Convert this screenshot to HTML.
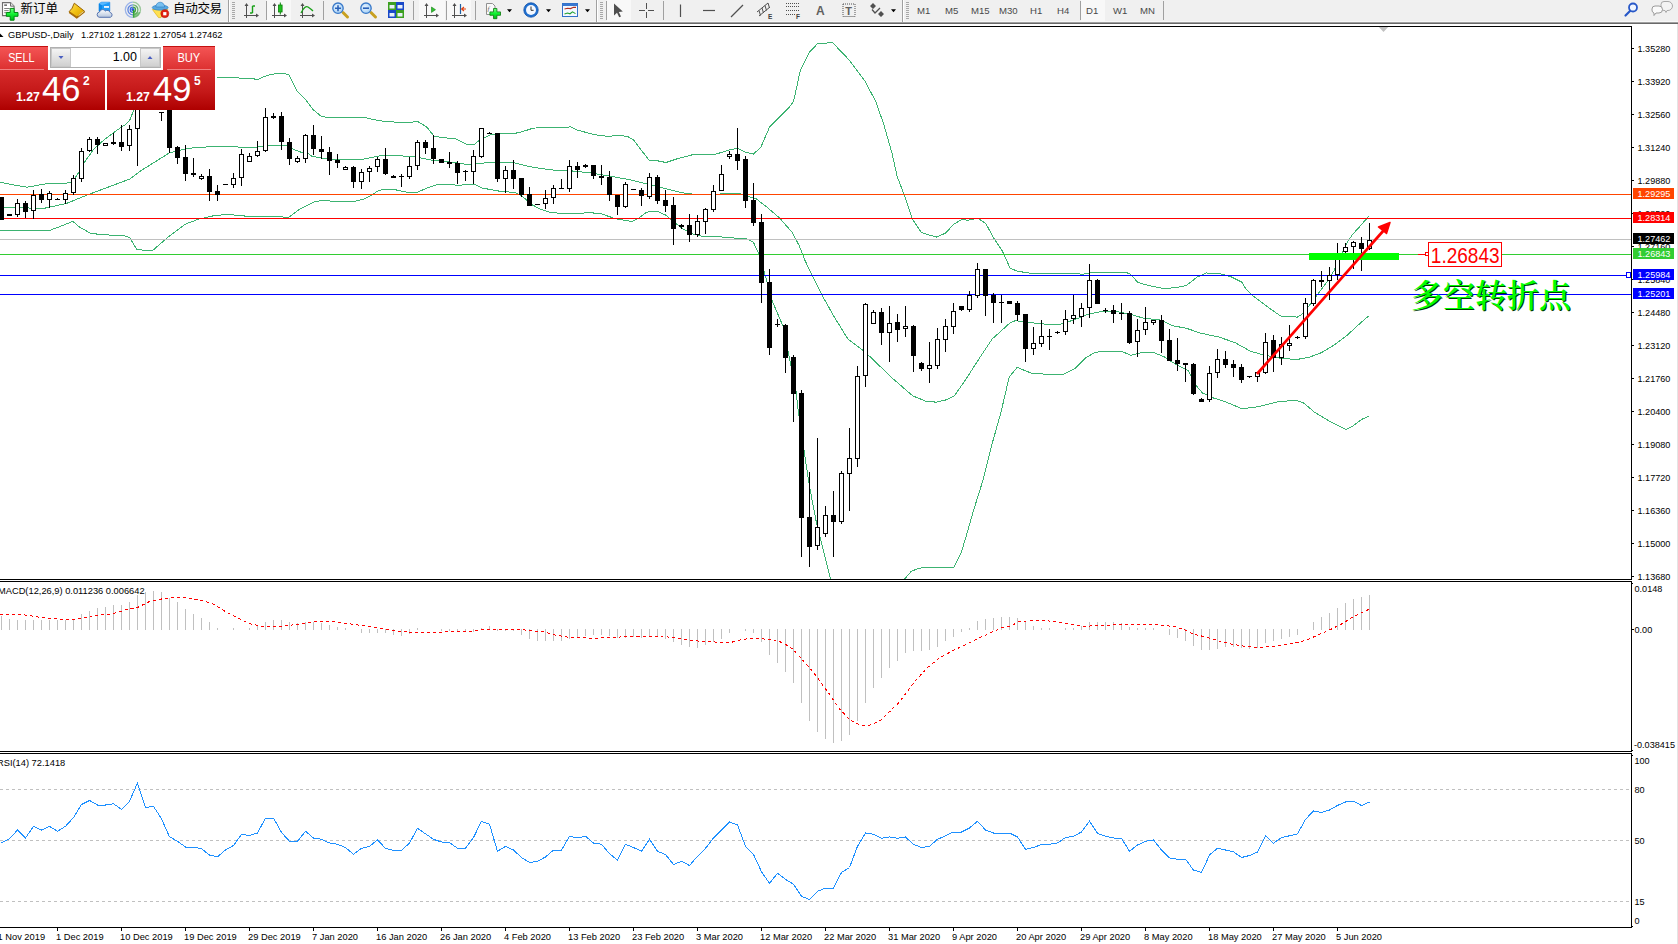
<!DOCTYPE html>
<html><head><meta charset="utf-8"><title>GBPUSD Daily</title>
<style>
html,body{margin:0;padding:0;background:#fff;}
body{width:1678px;height:944px;overflow:hidden;position:relative;font-family:"Liberation Sans", sans-serif;}
#tb{position:absolute;left:0;top:0;width:1678px;height:22px;background:#F0F0F0;}
#tbl0{position:absolute;left:0;top:21px;width:1678px;height:1px;background:#F8F8F8;}
#tbl1{position:absolute;left:0;top:22px;width:1678px;height:1px;background:#A0A0A0;}
#tbl2{position:absolute;left:0;top:23px;width:1678px;height:1px;background:#696969;}
#chart{position:absolute;left:0;top:0;}
#chart text{font-family:"Liberation Sans", sans-serif;}
.tf{position:absolute;top:5px;font-size:9.6px;color:#4a4a4a;letter-spacing:0;}
.sep{position:absolute;top:1px;width:1px;height:19px;background:#A0A0A0;}
.grip{position:absolute;top:2px;width:3px;height:18px;background:repeating-linear-gradient(#A8A8A8 0 1px,#F0F0F0 1px 2px);}
.prs{position:absolute;top:0;height:22px;background:#F8F8F8;}
.cj{position:absolute;top:-0.5px;font-size:12.5px;line-height:18px;color:#000;font-family:"Liberation Sans", "Noto Sans CJK SC", sans-serif;white-space:nowrap;}
.ic{position:absolute;top:2px;}
#pn{position:absolute;left:0;top:46px;width:215px;height:64px;background:#fff;}
#pn div{position:absolute;box-sizing:border-box;}
.sb{top:0;height:24px;background:linear-gradient(#F45454,#DC3030);border-top:1px solid #C41010;color:#fff;font-size:12.5px;line-height:22px;text-align:center;}
.sb span{display:inline-block;transform-origin:50% 50%;}
.bp{top:24px;height:40px;background:linear-gradient(#D62B2B 0%,#C41818 55%,#AE0000 100%);color:#fff;}
.bp span{position:absolute;white-space:nowrap;color:#fff;}
.sm{font-size:12.3px;font-weight:bold;bottom:6px;}
.bg{font-size:34.5px;bottom:1px;line-height:40px;}
.su{font-size:12px;font-weight:bold;top:4px;}
.ul{height:1px;background:#F08080;top:23px;}
#vol{left:50px;top:1px;width:111px;height:21px;border:1px solid #B0B0B0;background:#fff;}
.spb{top:0;width:20px;height:19px;background:linear-gradient(#F4F4F4,#D0D0D0);border:1px solid #C8C8C8;}

</style></head><body>
<div id="tb"></div><div id="tbl0"></div><div id="tbl1"></div><div id="tbl2"></div>
<!-- pressed backgrounds -->
<div class="prs" style="left:267px;width:24px"></div>
<div class="prs" style="left:419px;width:26px"></div>
<div class="prs" style="left:447px;width:24px"></div>
<div class="prs" style="left:607px;width:24px"></div>
<div class="prs" style="left:1081px;width:24px"></div>
<!-- separators -->
<div class="sep" style="left:228px;top:0;height:22px"></div><div class="sep" style="left:229px;top:0;height:22px;background:#fff"></div><div class="grip" style="left:232px"></div>
<div class="sep" style="left:266px"></div>
<div class="sep" style="left:323px"></div>
<div class="sep" style="left:413px"></div>
<div class="sep" style="left:446px"></div>
<div class="sep" style="left:475px"></div>
<div class="sep" style="left:596px;top:0;height:22px"></div><div class="sep" style="left:597px;top:0;height:22px;background:#fff"></div><div class="grip" style="left:600px"></div>
<div class="sep" style="left:606px"></div>
<div class="sep" style="left:663px"></div>
<div class="sep" style="left:902px;top:0;height:22px"></div><div class="sep" style="left:903px;top:0;height:22px;background:#fff"></div><div class="grip" style="left:906px"></div>
<div class="sep" style="left:1080px"></div>
<div class="sep" style="left:1163px"></div>
<!-- texts -->
<div class="cj" style="left:20.5px">新订单</div>
<div class="cj" style="left:173px;letter-spacing:-0.3px">自动交易</div>
<div class="tf" style="left:917px">M1</div>
<div class="tf" style="left:945px">M5</div>
<div class="tf" style="left:971px">M15</div>
<div class="tf" style="left:999px">M30</div>
<div class="tf" style="left:1030px">H1</div>
<div class="tf" style="left:1057px">H4</div>
<div class="tf" style="left:1086px">D1</div>
<div class="tf" style="left:1113px">W1</div>
<div class="tf" style="left:1140px">MN</div>
<!-- icons -->
<svg class="ic" style="left:0;top:0" width="1678" height="22" viewBox="0 0 1678 22">
<defs>
<linearGradient id="gg" x1="0" y1="0" x2="0" y2="1"><stop offset="0" stop-color="#70FF80"/><stop offset="0.5" stop-color="#10F030"/><stop offset="1" stop-color="#00B818"/></linearGradient>
<linearGradient id="gold" x1="0" y1="0" x2="1" y2="1"><stop offset="0" stop-color="#FFE060"/><stop offset="0.5" stop-color="#F0C010"/><stop offset="1" stop-color="#D89800"/></linearGradient>
<linearGradient id="blu" x1="0" y1="0" x2="0" y2="1"><stop offset="0" stop-color="#58B8FF"/><stop offset="1" stop-color="#1878E0"/></linearGradient>
<radialGradient id="lens" cx="0.4" cy="0.4" r="0.7"><stop offset="0" stop-color="#E8F4FF"/><stop offset="1" stop-color="#9CCBF4"/></radialGradient>
<linearGradient id="cl" x1="0" y1="0" x2="0" y2="1"><stop offset="0" stop-color="#FFFFFF"/><stop offset="1" stop-color="#B4C4DC"/></linearGradient>
</defs>
<!-- new order -->
<path d="M2.5,2.6 h8 l3.6,3.6 v9.4 h-11.6 z" fill="#fff" stroke="#6E6E6E" stroke-width="1.1"/>
<path d="M10.5,2.6 v3.6 h3.6" fill="#E0E0E0" stroke="#6E6E6E" stroke-width="1"/>
<rect x="4.2" y="4.4" width="2.8" height="1.5" fill="#666"/><rect x="4.2" y="8" width="5.5" height="1" fill="#808080"/><rect x="4.2" y="10.1" width="4.5" height="1" fill="#808080"/><rect x="4.2" y="12.2" width="2" height="1" fill="#808080"/>
<path d="M10.2,8.4 h3.9 v4.1 h3.9 v3.8 h-3.9 v3.9 h-3.9 v-3.9 h-3.9 v-3.8 h3.9 z" fill="url(#gg)" stroke="#008A10" stroke-width="1"/>
<!-- gold book -->
<path d="M69,11.8 Q72.5,9 74.3,3.2 L84.6,11.3 L76.8,17.8 Z" fill="url(#gold)" stroke="#9A6400" stroke-width="1"/>
<path d="M69.3,12.3 L76.8,17.6 L84.4,11.6" fill="none" stroke="#A86C08" stroke-width="1.8"/>
<path d="M78.5,15.6 L83.6,11.5" fill="none" stroke="#E8DCA0" stroke-width="1"/>
<!-- blue doc + cloud -->
<path d="M99,3.6 l2.6,-1.4 h8.2 v9 h-10.8 z" fill="#1E9CF8" stroke="#1880E0" stroke-width="0.6"/>
<path d="M99,3.6 l3,1.6 v6 h-3z" fill="#0A88E8"/>
<path d="M102,5.2 l-3,-1.600 l2.600,-1.400 h8.200 z" fill="#58B8FF"/>
<rect x="104" y="6" width="5" height="1.900" fill="#E8F4FF"/>
<path d="M99.200,17.300 a2.700,2.700 0 0 1 0.300,-5.300 a3.300,3.300 0 0 1 5.900,-1 a3,3 0 0 1 4.700,1.500 a2.500,2.500 0 0 1 0.300,4.800 z" fill="url(#cl)" stroke="#4868A8" stroke-width="0.9"/>
<!-- signal -->
<g fill="none" stroke-width="1.3">
<path d="M132.9,2.2 a7.6,7.6 0 0 0 0,15.2" stroke="#9CB4E8"/><path d="M132.9,2.2 a7.6,7.6 0 0 1 0,15.2" stroke="#9CC89C"/>
<path d="M132.9,4.8 a5,5 0 0 0 0,10" stroke="#5C84E0"/><path d="M132.9,4.8 a5,5 0 0 1 0,10" stroke="#68B068"/>
<path d="M132.9,7.2 a2.6,2.6 0 0 0 0,5.2" stroke="#3868E0"/><path d="M132.9,7.2 a2.6,2.6 0 0 1 0,5.2" stroke="#40A040"/>
</g>
<circle cx="132.9" cy="9.6" r="1.5" fill="#2858D8"/><rect x="132.9" y="10" width="1.5" height="7.5" fill="#28A028"/>
<path d="M133.5,17.4 a7.6,7.6 0 0 0 6.8,-5.5 l-6.8,1z" fill="#58B058" opacity="0.7"/>
<!-- autotrading -->
<path d="M152.4,9.5 L167.8,9.5 L161,17.6 L158.5,17.6 Z" fill="#FFE050" stroke="#D8A800" stroke-width="0.6"/>
<ellipse cx="160.2" cy="7.6" rx="8" ry="2.6" fill="#58A8E0" stroke="#2878C0" stroke-width="0.6"/>
<path d="M155.8,7 a4.4,4.8 0 0 1 8.8,0 z" fill="#78C0F0" stroke="#2878C0" stroke-width="0.6"/>
<circle cx="164.8" cy="13.7" r="4" fill="#E02010" stroke="#B01000" stroke-width="0.5"/><rect x="163.2" y="12.1" width="3.2" height="3.2" fill="#fff"/>
<!-- chart type icons: axes helper -->
<g stroke="#505050" stroke-width="1.2" fill="none" shape-rendering="crispEdges">
<path d="M246.5,4 v14 M244,15.5 h14"/><path d="M274.5,4 v14 M272,15.5 h14"/><path d="M302.5,4 v14 M300,15.5 h14"/>
<path d="M426.5,4 v14 M424,15.5 h14"/><path d="M454.5,4 v14 M452,15.5 h14"/>
</g>
<g fill="#505050"><path d="M244.5,6 l2,-3 l2,3z M272.5,6 l2,-3 l2,3z M300.5,6 l2,-3 l2,3z M424.5,6 l2,-3 l2,3z M452.5,6 l2,-3 l2,3z"/>
<path d="M256,13.5 l3,2 l-3,2z M284,13.5 l3,2 l-3,2z M312,13.5 l3,2 l-3,2z M436,13.5 l3,2 l-3,2z M464,13.5 l3,2 l-3,2z"/></g>
<path d="M252.5,6 v7 M250,13 h2.5 M252.5,6 h2.5" stroke="#18A018" stroke-width="1.4" fill="none"/>
<rect x="278.5" y="5" width="3.6" height="7" fill="#20C020" stroke="#0A800A" stroke-width="0.8"/><path d="M280.3,2.5 v2.5 M280.3,12 v2.5" stroke="#0A800A" stroke-width="1"/>
<path d="M301,13 q4,-8 7,-6 t5,4" stroke="#18A018" stroke-width="1.3" fill="none"/>
<!-- zoom in / out -->
<path d="M343,12.5 l4.5,4.5" stroke="#C8A020" stroke-width="3" stroke-linecap="round"/>
<circle cx="338" cy="8.2" r="5.2" fill="url(#lens)" stroke="#3878C8" stroke-width="1.3"/>
<path d="M335,8.2 h6 M338,5.2 v6" stroke="#2860B8" stroke-width="1.6"/>
<path d="M371,12.5 l4.5,4.5" stroke="#C8A020" stroke-width="3" stroke-linecap="round"/>
<circle cx="366" cy="8.2" r="5.2" fill="url(#lens)" stroke="#3878C8" stroke-width="1.3"/>
<path d="M363,8.2 h6" stroke="#2860B8" stroke-width="1.6"/>
<!-- grid tiles -->
<rect x="388" y="2" width="8" height="8" fill="#3CA020"/><rect x="396" y="2" width="8" height="8" fill="#1848C8"/>
<rect x="388" y="10" width="8" height="8" fill="#1848C8"/><rect x="396" y="10" width="8" height="8" fill="#3CA020"/>
<g fill="#E8F0F8"><rect x="389.5" y="5" width="5" height="3.5"/><rect x="397.5" y="5" width="5" height="3.5"/><rect x="389.5" y="13" width="5" height="3.5"/><rect x="397.5" y="13" width="5" height="3.5"/></g>
<!-- auto scroll / chart shift -->
<path d="M431.5,7 l4,2.7 l-4,2.7z" fill="#30C030" stroke="#108010" stroke-width="0.6"/>
<path d="M460.5,4 v10" stroke="#2060A0" stroke-width="1.2"/><path d="M466,9 h-4 M464,7 l-2.4,2 l2.4,2" stroke="#E04010" stroke-width="1.1" fill="none"/>
<!-- indicators -->
<path d="M486.5,3.5 h6 l2.5,2.5 v8.5 h-8.5 z" fill="#FAFAFA" stroke="#909090"/><text x="487.6" y="11" font-size="7" font-style="italic" fill="#606060" font-family="Liberation Serif, serif">f</text>
<path d="M493.5,8.5 h3.4 v3.4 h3.6 v3.4 h-3.6 v3.4 h-3.4 v-3.4 h-3.6 v-3.4 h3.6 z" fill="url(#gg)" stroke="#0A7A0A" stroke-width="0.8"/>
<path d="M507,9.2 h5 l-2.5,3z" fill="#000"/>
<!-- clock -->
<circle cx="531" cy="10" r="7.2" fill="#2070D0" stroke="#1050A8" stroke-width="0.8"/><circle cx="531" cy="10" r="5" fill="#F4F8FF"/>
<path d="M531,6.5 v3.8 h2.6" stroke="#303030" stroke-width="1" fill="none"/>
<path d="M546,9.2 h5 l-2.5,3z" fill="#000"/>
<!-- template -->
<rect x="562.5" y="3.5" width="15" height="13" fill="#F4F8FF" stroke="#3070C8"/><rect x="562.5" y="3.5" width="15" height="2.5" fill="#3878D0"/>
<path d="M564.5,9 l3,-0.8 l3,0.4 l3,-1.4 l2.5,0.2" stroke="#B03020" stroke-width="1.1" fill="none"/>
<path d="M564.5,14 l3,-1 l2.5,0.8 l2.5,-2 l3,1.8" stroke="#20A030" stroke-width="1.1" fill="none"/>
<path d="M585,9.2 h5 l-2.5,3z" fill="#000"/>
<!-- cursor -->
<path d="M614,3.5 v12 l3,-2.8 l2.2,4.6 l1.8,-0.9 l-2.2,-4.5 l4,-0.3 z" fill="#505050"/>
<!-- crosshair -->
<path d="M646.5,3 v6 M646.5,12 v6 M639,10.5 h6 M648,10.5 h6" stroke="#505050" stroke-width="1.1" shape-rendering="crispEdges"/>
<!-- line tools -->
<path d="M680.5,4.5 v12.5" stroke="#505050" stroke-width="1.2"/>
<path d="M703,10.5 h12" stroke="#505050" stroke-width="1.2"/>
<path d="M731,17 l12,-12" stroke="#505050" stroke-width="1.2"/>
<g stroke="#505050" stroke-width="1" fill="none"><path d="M757,12 l11,-9 M759,16 l11,-9 M759,10.5 l1.5,5 M762,8 l1.5,5 M765,5.500 l1.5,5 M768,3 l1.5,5"/></g>
<text x="768" y="18.8" font-size="6.5" font-weight="bold" fill="#404040" font-family="Liberation Sans, sans-serif">E</text>
<g stroke="#505050" stroke-width="1" stroke-dasharray="1 1" fill="none"><path d="M786,3.500 h13 M786,6.500 h13 M786,10.500 h13 M786,14.500 h9"/></g>
<text x="796" y="18.8" font-size="6.5" font-weight="bold" fill="#404040" font-family="Liberation Sans, sans-serif">F</text>
<text x="816" y="15" font-size="12" font-weight="bold" fill="#606060" font-family="Liberation Sans, sans-serif">A</text>
<rect x="843" y="4" width="12" height="12.5" fill="none" stroke="#505050" stroke-width="1" stroke-dasharray="1 1"/>
<text x="845.2" y="14.5" font-size="11" font-weight="bold" fill="#606060" font-family="Liberation Sans, sans-serif">T</text>
<path d="M873,3 l3,3 l-3,3 l-3,-3z M881,11 l3,3 l-3,3 l-3,-3z" fill="#505050"/><path d="M872,9.500 l3,3.500 l5,-5" stroke="#505050" stroke-width="1.3" fill="none"/>
<path d="M891,9.2 h5 l-2.500,3z" fill="#000"/>
<!-- search + chat -->
<circle cx="1633" cy="7.500" r="4" fill="#F0F6FF" stroke="#2858C8" stroke-width="1.8"/><path d="M1630,11 l-4.500,4.500" stroke="#2858C8" stroke-width="2.2" stroke-linecap="round"/>
<path d="M1655,5.500 a3,3 0 0 1 3,-3 h4 a3,3 0 0 1 0,9 h-1 l-1,2 l-1,-2 h-1 a3,3 0 0 1 -3,-3z" fill="#F4F4F4" stroke="#A0A0A0" stroke-width="0.9" transform="translate(6,-1)"/>
<path d="M1652,9 a3,3 0 0 1 3,-3 h4 a3,3 0 0 1 0,7 h-3 l-2,2.500 v-2.500 a3,3 0 0 1 -2,-3z" fill="#FAFAFA" stroke="#909090" stroke-width="0.9"/>
</svg>

<svg id="chart" width="1678" height="944" viewBox="0 0 1678 944">
<g shape-rendering="crispEdges">
<polyline points="0.0,182.2 14.4,185.1 27.0,187.2 45.0,184.0 66.6,183.1 72.0,181.8 77.4,174.6 84.6,162.0 93.6,149.4 104.4,139.5 115.2,131.4 126.0,124.2 129.6,120.6 133.2,111.6 135.0,108.0" fill="none" stroke="#3CB371" stroke-width="1"/>
<polyline points="217.0,77.3 236.9,77.3 239.4,78.2 252.1,78.2 255.9,79.5 258.5,79.2 263.6,76.7 271.2,74.4 278.8,73.3 283.9,73.3 289.0,74.8 292.8,82.4 296.6,90.4 305.5,99.6 313.2,109.8 320.8,115.9 327.1,117.4 365.3,117.4 371.6,119.3 385.2,121.5 406.8,122.8 417.6,121.5 426.6,126.9 433.8,135.9 442.8,137.7 455.5,138.6 466.3,144.0 473.5,144.9 480.7,139.5 491.5,134.1 513.0,133.8 522.0,131.8 532.9,128.2 545.0,127.3 570.6,127.0 576.0,129.7 594.0,134.6 608.4,136.4 619.2,135.1 628.2,136.9 633.6,140.0 640.8,149.5 648.9,160.0 657.0,160.7 666.0,162.5 676.8,158.9 693.0,154.6 716.4,154.0 729.0,150.0 737.2,148.3 745.3,152.2 753.4,154.0 760.6,147.7 769.6,127.0 779.5,117.1 788.5,108.1 793.9,100.9" fill="none" stroke="#3CB371" stroke-width="1"/>
<polyline points="793.6,101.3 800.3,70.4 809.8,51.6 817.8,43.5 832.6,42.7 848.8,59.6 864.9,81.1 875.7,101.3 883.7,124.2 891.8,152.4 897.2,176.6 903.9,194.1 912.0,218.3 921.4,232.6 936.2,237.1 945.6,233.1 953.7,224.2 961.7,219.7 968.4,220.2 977.9,218.3 985.9,223.7 994.0,238.5 1002.1,250.6 1010.1,268.1 1017.2,271.2 1031.6,273.4 1074.8,273.4 1082.0,274.3 1094.6,272.1 1125.2,272.1 1130.6,274.3 1137.8,282.4 1148.6,285.5 1163.0,288.4 1175.6,287.8 1186.4,285.5 1197.2,277.0 1206.3,273.0 1218.9,273.4 1231.5,277.0 1242.3,282.4 1245.1,287.7 1251.4,294.7 1259.1,300.4 1269.2,308.1 1280.7,316.0 1290.9,316.3 1297.2,317.2 1303.6,313.2 1311.2,303.0 1318.8,292.8 1326.5,282.6 1334.1,270.6 1341.7,253.4 1348.1,240.7 1353.2,233.7 1360.8,225.4 1369.0,215.9" fill="none" stroke="#3CB371" stroke-width="1"/>
<polyline points="0.0,207.0 43.2,208.5 66.6,203.4 86.4,195.3 129.6,179.1 140.4,171.0 169.2,153.0 187.3,148.5 198.1,147.3 223.3,146.4 252.1,147.6 270.1,145.8 276.3,145.1 286.5,145.6 294.1,149.8 301.7,152.4 308.1,153.6 311.9,156.2 327.1,159.1 364.0,159.1 371.6,157.4 383.1,155.3 392.4,155.2 417.6,157.2 432.0,160.2 450.0,162.0 466.3,164.4 473.5,164.2 487.9,162.6 500.5,162.4 514.9,162.9 529.3,166.5 540.0,168.4 554.4,170.2 570.6,170.8 590.4,172.9 612.0,176.5 630.0,179.8 648.0,184.1 664.2,188.2 680.4,192.4 687.6,193.6 702.0,195.0 711.0,194.5 733.6,193.3 740.0,193.5 747.0,196.3 756.0,198.7 766.9,207.1 779.5,217.9 792.1,232.3 799.3,245.8 804.8,260.0 812.0,275.3 821.0,293.3 833.6,315.8 848.0,339.2 862.4,350.0 869.6,356.3 893.0,378.8 912.8,395.9 925.4,401.0 936.2,402.2 945.3,400.1 954.3,395.9 965.0,380.6 979.5,358.1 992.0,339.2 1010.0,322.9 1015.4,320.6 1028.0,322.4 1046.0,324.2 1060.4,324.2 1073.0,320.2 1089.2,313.9 1103.6,311.2 1118.0,311.8 1128.8,313.9 1143.2,318.1 1161.2,320.2 1172.0,325.6 1186.4,328.3 1200.9,333.2 1218.9,337.0 1235.1,342.7 1250.4,351.2 1262.2,354.6 1277.1,357.8 1296.4,359.6 1309.7,357.1 1321.6,352.6 1334.9,344.5 1346.8,335.6 1357.2,326.0 1364.6,319.3 1368.7,316.0" fill="none" stroke="#3CB371" stroke-width="1"/>
<polyline points="0.0,230.4 50.4,230.1 59.4,226.8 72.9,221.4 79.2,226.8 90.0,233.1 100.8,234.6 124.2,235.8 129.6,237.6 136.8,249.3 144.0,250.2 153.0,250.2 167.4,237.6 185.5,224.1 198.1,219.3 212.5,216.0 223.3,214.8 239.5,215.1 246.7,216.4 270.1,216.6 280.8,216.6 288.0,217.8 298.8,209.7 315.0,201.6 324.0,200.2 334.8,201.6 352.8,201.6 363.6,199.3 372.6,194.4 378.0,190.8 385.2,189.0 396.0,189.9 408.6,192.6 417.6,192.3 426.6,188.1 437.4,184.5 450.0,184.2 457.2,185.4 473.5,184.0 482.5,188.1 502.3,191.7 514.9,192.3 522.0,196.2 532.9,205.2 540.0,208.9 549.0,212.0 559.8,213.4 576.0,213.8 588.6,212.5 601.2,213.8 615.6,218.8 631.8,221.5 639.0,217.9 646.2,212.5 651.6,211.1 658.8,212.0 666.0,215.2 673.2,221.5 684.0,229.6 693.0,234.1 702.0,236.3 720.0,236.8 738.0,238.3 747.0,239.0 753.4,242.2 758.8,253.9 763.4,269.0 772.4,301.4 783.2,326.6 788.6,353.6 795.8,389.6 798.5,413.0 803.9,449.2 808.4,479.8 812.0,499.6 816.5,523.0 821.0,541.0 826.4,562.6 830.6,579.0" fill="none" stroke="#3CB371" stroke-width="1"/>
<polyline points="904.7,579.0 911.0,571.6 918.2,568.4 927.2,567.1 941.7,567.5 953.4,568.0 961.5,551.8 966.9,533.8 974.1,508.6 983.1,479.8 992.1,443.8 1000.2,415.0 1002.9,404.0 1009.2,377.0 1017.2,367.4 1031.6,373.3 1046.0,374.2 1064.0,374.2 1074.8,368.8 1085.6,358.0 1094.6,352.6 1103.6,351.2 1121.6,351.2 1130.6,355.3 1139.6,353.0 1154.0,352.6 1164.8,357.1 1175.6,364.3 1188.2,370.6 1197.2,386.8 1202.6,393.1 1213.5,398.0 1226.1,402.1 1242.3,408.8 1257.8,406.8 1278.6,401.6 1296.4,400.4 1303.8,403.1 1314.2,412.0 1329.0,420.9 1346.0,429.5 1352.7,426.1 1361.6,419.4 1368.7,416.4" fill="none" stroke="#3CB371" stroke-width="1"/>
</g>
<rect x="0" y="194" width="1631" height="1" fill="#FF4500"/>
<rect x="0" y="218" width="1631" height="1" fill="#FF0000"/>
<rect x="0" y="239" width="1631" height="1" fill="#C0C0C0"/>
<rect x="0" y="254" width="1631" height="1" fill="#32CD32"/>
<rect x="0" y="275" width="1631" height="1" fill="#0000FF"/>
<rect x="0" y="294" width="1631" height="1" fill="#0000FF"/>
<g shape-rendering="crispEdges">
<rect x="1" y="197" width="1" height="23" fill="#000"/>
<rect x="-1" y="197" width="5" height="23" fill="#000"/>
<rect x="9" y="214" width="1" height="2" fill="#000"/>
<rect x="7" y="214" width="5" height="2" fill="#000"/>
<rect x="17" y="199" width="1" height="18" fill="#000"/>
<rect x="15" y="203" width="5" height="12" fill="#000"/>
<rect x="16" y="204" width="3" height="10" fill="#fff"/>
<rect x="25" y="201" width="1" height="17" fill="#000"/>
<rect x="23" y="203" width="5" height="9" fill="#000"/>
<rect x="33" y="190" width="1" height="29" fill="#000"/>
<rect x="31" y="195" width="5" height="16" fill="#000"/>
<rect x="32" y="196" width="3" height="14" fill="#fff"/>
<rect x="41" y="189" width="1" height="14" fill="#000"/>
<rect x="39" y="194" width="5" height="6" fill="#000"/>
<rect x="49" y="191" width="1" height="17" fill="#000"/>
<rect x="47" y="193" width="5" height="7" fill="#000"/>
<rect x="48" y="194" width="3" height="5" fill="#fff"/>
<rect x="57" y="198" width="1" height="2" fill="#000"/>
<rect x="55" y="199" width="5" height="1" fill="#000"/>
<rect x="65" y="190" width="1" height="14" fill="#000"/>
<rect x="63" y="193" width="5" height="7" fill="#000"/>
<rect x="64" y="194" width="3" height="5" fill="#fff"/>
<rect x="73" y="175" width="1" height="20" fill="#000"/>
<rect x="71" y="178" width="5" height="15" fill="#000"/>
<rect x="72" y="179" width="3" height="13" fill="#fff"/>
<rect x="81" y="148" width="1" height="34" fill="#000"/>
<rect x="79" y="151" width="5" height="28" fill="#000"/>
<rect x="80" y="152" width="3" height="26" fill="#fff"/>
<rect x="89" y="137" width="1" height="15" fill="#000"/>
<rect x="87" y="139" width="5" height="12" fill="#000"/>
<rect x="88" y="140" width="3" height="10" fill="#fff"/>
<rect x="97" y="137" width="1" height="17" fill="#000"/>
<rect x="95" y="139" width="5" height="6" fill="#000"/>
<rect x="105" y="143" width="1" height="3" fill="#000"/>
<rect x="103" y="143" width="5" height="3" fill="#000"/>
<rect x="104" y="144" width="3" height="1" fill="#fff"/>
<rect x="113" y="133" width="1" height="12" fill="#000"/>
<rect x="111" y="142" width="5" height="2" fill="#000"/>
<rect x="121" y="125" width="1" height="26" fill="#000"/>
<rect x="119" y="142" width="5" height="5" fill="#000"/>
<rect x="129" y="125" width="1" height="26" fill="#000"/>
<rect x="127" y="129" width="5" height="17" fill="#000"/>
<rect x="128" y="130" width="3" height="15" fill="#fff"/>
<rect x="137" y="100" width="1" height="66" fill="#000"/>
<rect x="135" y="100" width="5" height="29" fill="#000"/>
<rect x="136" y="101" width="3" height="27" fill="#fff"/>
<rect x="145" y="100" width="1" height="5" fill="#000"/>
<rect x="143" y="100" width="5" height="5" fill="#000"/>
<rect x="153" y="100" width="1" height="5" fill="#000"/>
<rect x="151" y="100" width="5" height="5" fill="#000"/>
<rect x="161" y="112" width="1" height="9" fill="#000"/>
<rect x="159" y="112" width="5" height="1" fill="#000"/>
<rect x="169" y="100" width="1" height="53" fill="#000"/>
<rect x="167" y="100" width="5" height="48" fill="#000"/>
<rect x="177" y="146" width="1" height="18" fill="#000"/>
<rect x="175" y="147" width="5" height="11" fill="#000"/>
<rect x="185" y="145" width="1" height="36" fill="#000"/>
<rect x="183" y="157" width="5" height="17" fill="#000"/>
<rect x="193" y="158" width="1" height="19" fill="#000"/>
<rect x="191" y="173" width="5" height="2" fill="#000"/>
<rect x="201" y="174" width="1" height="6" fill="#000"/>
<rect x="199" y="176" width="5" height="3" fill="#000"/>
<rect x="200" y="177" width="3" height="1" fill="#fff"/>
<rect x="209" y="169" width="1" height="32" fill="#000"/>
<rect x="207" y="176" width="5" height="16" fill="#000"/>
<rect x="217" y="185" width="1" height="16" fill="#000"/>
<rect x="215" y="191" width="5" height="4" fill="#000"/>
<rect x="225" y="184" width="1" height="1" fill="#000"/>
<rect x="223" y="184" width="5" height="1" fill="#000"/>
<rect x="233" y="173" width="1" height="15" fill="#000"/>
<rect x="231" y="178" width="5" height="7" fill="#000"/>
<rect x="232" y="179" width="3" height="5" fill="#fff"/>
<rect x="241" y="149" width="1" height="37" fill="#000"/>
<rect x="239" y="154" width="5" height="24" fill="#000"/>
<rect x="240" y="155" width="3" height="22" fill="#fff"/>
<rect x="249" y="153" width="1" height="9" fill="#000"/>
<rect x="247" y="156" width="5" height="6" fill="#000"/>
<rect x="248" y="157" width="3" height="4" fill="#fff"/>
<rect x="257" y="141" width="1" height="16" fill="#000"/>
<rect x="255" y="151" width="5" height="5" fill="#000"/>
<rect x="256" y="152" width="3" height="3" fill="#fff"/>
<rect x="265" y="108" width="1" height="44" fill="#000"/>
<rect x="263" y="117" width="5" height="34" fill="#000"/>
<rect x="264" y="118" width="3" height="32" fill="#fff"/>
<rect x="273" y="113" width="1" height="6" fill="#000"/>
<rect x="271" y="116" width="5" height="2" fill="#000"/>
<rect x="281" y="112" width="1" height="38" fill="#000"/>
<rect x="279" y="116" width="5" height="26" fill="#000"/>
<rect x="289" y="138" width="1" height="27" fill="#000"/>
<rect x="287" y="142" width="5" height="17" fill="#000"/>
<rect x="297" y="156" width="1" height="7" fill="#000"/>
<rect x="295" y="158" width="5" height="4" fill="#000"/>
<rect x="296" y="159" width="3" height="2" fill="#fff"/>
<rect x="305" y="134" width="1" height="29" fill="#000"/>
<rect x="303" y="135" width="5" height="24" fill="#000"/>
<rect x="304" y="136" width="3" height="22" fill="#fff"/>
<rect x="313" y="125" width="1" height="30" fill="#000"/>
<rect x="311" y="135" width="5" height="14" fill="#000"/>
<rect x="321" y="136" width="1" height="23" fill="#000"/>
<rect x="319" y="149" width="5" height="3" fill="#000"/>
<rect x="329" y="147" width="1" height="28" fill="#000"/>
<rect x="327" y="152" width="5" height="9" fill="#000"/>
<rect x="337" y="154" width="1" height="14" fill="#000"/>
<rect x="335" y="160" width="5" height="3" fill="#000"/>
<rect x="345" y="166" width="1" height="3" fill="#000"/>
<rect x="343" y="167" width="5" height="3" fill="#000"/>
<rect x="344" y="168" width="3" height="1" fill="#fff"/>
<rect x="353" y="166" width="1" height="22" fill="#000"/>
<rect x="351" y="167" width="5" height="15" fill="#000"/>
<rect x="361" y="169" width="1" height="20" fill="#000"/>
<rect x="359" y="172" width="5" height="10" fill="#000"/>
<rect x="360" y="173" width="3" height="8" fill="#fff"/>
<rect x="369" y="166" width="1" height="16" fill="#000"/>
<rect x="367" y="168" width="5" height="4" fill="#000"/>
<rect x="368" y="169" width="3" height="2" fill="#fff"/>
<rect x="377" y="157" width="1" height="15" fill="#000"/>
<rect x="375" y="159" width="5" height="8" fill="#000"/>
<rect x="376" y="160" width="3" height="6" fill="#fff"/>
<rect x="385" y="148" width="1" height="27" fill="#000"/>
<rect x="383" y="159" width="5" height="15" fill="#000"/>
<rect x="393" y="175" width="1" height="3" fill="#000"/>
<rect x="391" y="176" width="5" height="2" fill="#000"/>
<rect x="401" y="174" width="1" height="13" fill="#000"/>
<rect x="399" y="176" width="5" height="1" fill="#000"/>
<rect x="409" y="157" width="1" height="22" fill="#000"/>
<rect x="407" y="166" width="5" height="11" fill="#000"/>
<rect x="408" y="167" width="3" height="9" fill="#fff"/>
<rect x="417" y="140" width="1" height="30" fill="#000"/>
<rect x="415" y="142" width="5" height="24" fill="#000"/>
<rect x="416" y="143" width="3" height="22" fill="#fff"/>
<rect x="425" y="140" width="1" height="14" fill="#000"/>
<rect x="423" y="142" width="5" height="6" fill="#000"/>
<rect x="433" y="135" width="1" height="29" fill="#000"/>
<rect x="431" y="148" width="5" height="11" fill="#000"/>
<rect x="441" y="159" width="1" height="4" fill="#000"/>
<rect x="439" y="159" width="5" height="4" fill="#000"/>
<rect x="449" y="152" width="1" height="16" fill="#000"/>
<rect x="447" y="162" width="5" height="2" fill="#000"/>
<rect x="457" y="161" width="1" height="23" fill="#000"/>
<rect x="455" y="163" width="5" height="10" fill="#000"/>
<rect x="465" y="170" width="1" height="11" fill="#000"/>
<rect x="463" y="171" width="5" height="1" fill="#000"/>
<rect x="473" y="150" width="1" height="34" fill="#000"/>
<rect x="471" y="156" width="5" height="16" fill="#000"/>
<rect x="472" y="157" width="3" height="14" fill="#fff"/>
<rect x="481" y="128" width="1" height="30" fill="#000"/>
<rect x="479" y="128" width="5" height="29" fill="#000"/>
<rect x="480" y="129" width="3" height="27" fill="#fff"/>
<rect x="489" y="132" width="1" height="2" fill="#000"/>
<rect x="487" y="133" width="5" height="1" fill="#000"/>
<rect x="497" y="133" width="1" height="49" fill="#000"/>
<rect x="495" y="133" width="5" height="46" fill="#000"/>
<rect x="505" y="166" width="1" height="27" fill="#000"/>
<rect x="503" y="170" width="5" height="9" fill="#000"/>
<rect x="504" y="171" width="3" height="7" fill="#fff"/>
<rect x="513" y="160" width="1" height="29" fill="#000"/>
<rect x="511" y="170" width="5" height="9" fill="#000"/>
<rect x="521" y="178" width="1" height="19" fill="#000"/>
<rect x="519" y="178" width="5" height="17" fill="#000"/>
<rect x="529" y="187" width="1" height="19" fill="#000"/>
<rect x="527" y="194" width="5" height="12" fill="#000"/>
<rect x="537" y="204" width="1" height="1" fill="#000"/>
<rect x="535" y="204" width="5" height="1" fill="#000"/>
<rect x="545" y="190" width="1" height="19" fill="#000"/>
<rect x="543" y="198" width="5" height="6" fill="#000"/>
<rect x="544" y="199" width="3" height="4" fill="#fff"/>
<rect x="553" y="185" width="1" height="19" fill="#000"/>
<rect x="551" y="188" width="5" height="10" fill="#000"/>
<rect x="552" y="189" width="3" height="8" fill="#fff"/>
<rect x="561" y="179" width="1" height="10" fill="#000"/>
<rect x="559" y="188" width="5" height="1" fill="#000"/>
<rect x="569" y="160" width="1" height="32" fill="#000"/>
<rect x="567" y="166" width="5" height="23" fill="#000"/>
<rect x="568" y="167" width="3" height="21" fill="#fff"/>
<rect x="577" y="162" width="1" height="16" fill="#000"/>
<rect x="575" y="166" width="5" height="4" fill="#000"/>
<rect x="585" y="164" width="1" height="4" fill="#000"/>
<rect x="583" y="165" width="5" height="2" fill="#000"/>
<rect x="593" y="165" width="1" height="14" fill="#000"/>
<rect x="591" y="165" width="5" height="11" fill="#000"/>
<rect x="601" y="165" width="1" height="20" fill="#000"/>
<rect x="599" y="176" width="5" height="2" fill="#000"/>
<rect x="609" y="171" width="1" height="30" fill="#000"/>
<rect x="607" y="177" width="5" height="18" fill="#000"/>
<rect x="617" y="195" width="1" height="20" fill="#000"/>
<rect x="615" y="195" width="5" height="12" fill="#000"/>
<rect x="625" y="182" width="1" height="26" fill="#000"/>
<rect x="623" y="184" width="5" height="23" fill="#000"/>
<rect x="624" y="185" width="3" height="21" fill="#fff"/>
<rect x="633" y="189" width="1" height="1" fill="#000"/>
<rect x="631" y="189" width="5" height="1" fill="#000"/>
<rect x="641" y="188" width="1" height="18" fill="#000"/>
<rect x="639" y="190" width="5" height="6" fill="#000"/>
<rect x="649" y="173" width="1" height="26" fill="#000"/>
<rect x="647" y="177" width="5" height="20" fill="#000"/>
<rect x="648" y="178" width="3" height="18" fill="#fff"/>
<rect x="657" y="175" width="1" height="29" fill="#000"/>
<rect x="655" y="177" width="5" height="24" fill="#000"/>
<rect x="665" y="190" width="1" height="22" fill="#000"/>
<rect x="663" y="200" width="5" height="6" fill="#000"/>
<rect x="673" y="197" width="1" height="48" fill="#000"/>
<rect x="671" y="205" width="5" height="24" fill="#000"/>
<rect x="681" y="224" width="1" height="5" fill="#000"/>
<rect x="679" y="225" width="5" height="2" fill="#000"/>
<rect x="689" y="214" width="1" height="28" fill="#000"/>
<rect x="687" y="225" width="5" height="10" fill="#000"/>
<rect x="697" y="215" width="1" height="22" fill="#000"/>
<rect x="695" y="221" width="5" height="14" fill="#000"/>
<rect x="696" y="222" width="3" height="12" fill="#fff"/>
<rect x="705" y="208" width="1" height="26" fill="#000"/>
<rect x="703" y="209" width="5" height="13" fill="#000"/>
<rect x="704" y="210" width="3" height="11" fill="#fff"/>
<rect x="713" y="185" width="1" height="27" fill="#000"/>
<rect x="711" y="191" width="5" height="19" fill="#000"/>
<rect x="712" y="192" width="3" height="17" fill="#fff"/>
<rect x="721" y="165" width="1" height="26" fill="#000"/>
<rect x="719" y="174" width="5" height="17" fill="#000"/>
<rect x="720" y="175" width="3" height="15" fill="#fff"/>
<rect x="729" y="151" width="1" height="8" fill="#000"/>
<rect x="727" y="154" width="5" height="3" fill="#000"/>
<rect x="728" y="155" width="3" height="1" fill="#fff"/>
<rect x="737" y="128" width="1" height="42" fill="#000"/>
<rect x="735" y="154" width="5" height="7" fill="#000"/>
<rect x="745" y="156" width="1" height="52" fill="#000"/>
<rect x="743" y="159" width="5" height="42" fill="#000"/>
<rect x="753" y="183" width="1" height="43" fill="#000"/>
<rect x="751" y="200" width="5" height="23" fill="#000"/>
<rect x="761" y="214" width="1" height="89" fill="#000"/>
<rect x="759" y="222" width="5" height="61" fill="#000"/>
<rect x="769" y="269" width="1" height="86" fill="#000"/>
<rect x="767" y="282" width="5" height="66" fill="#000"/>
<rect x="777" y="319" width="1" height="8" fill="#000"/>
<rect x="775" y="324" width="5" height="1" fill="#000"/>
<rect x="785" y="324" width="1" height="49" fill="#000"/>
<rect x="783" y="325" width="5" height="33" fill="#000"/>
<rect x="793" y="355" width="1" height="67" fill="#000"/>
<rect x="791" y="357" width="5" height="37" fill="#000"/>
<rect x="801" y="390" width="1" height="167" fill="#000"/>
<rect x="799" y="393" width="5" height="125" fill="#000"/>
<rect x="809" y="472" width="1" height="95" fill="#000"/>
<rect x="807" y="517" width="5" height="30" fill="#000"/>
<rect x="817" y="438" width="1" height="112" fill="#000"/>
<rect x="815" y="527" width="5" height="19" fill="#000"/>
<rect x="816" y="528" width="3" height="17" fill="#fff"/>
<rect x="825" y="506" width="1" height="31" fill="#000"/>
<rect x="823" y="515" width="5" height="19" fill="#000"/>
<rect x="824" y="516" width="3" height="17" fill="#fff"/>
<rect x="833" y="491" width="1" height="66" fill="#000"/>
<rect x="831" y="515" width="5" height="7" fill="#000"/>
<rect x="841" y="471" width="1" height="53" fill="#000"/>
<rect x="839" y="473" width="5" height="49" fill="#000"/>
<rect x="840" y="474" width="3" height="47" fill="#fff"/>
<rect x="849" y="428" width="1" height="83" fill="#000"/>
<rect x="847" y="458" width="5" height="16" fill="#000"/>
<rect x="848" y="459" width="3" height="14" fill="#fff"/>
<rect x="857" y="366" width="1" height="101" fill="#000"/>
<rect x="855" y="376" width="5" height="83" fill="#000"/>
<rect x="856" y="377" width="3" height="81" fill="#fff"/>
<rect x="865" y="303" width="1" height="84" fill="#000"/>
<rect x="863" y="304" width="5" height="72" fill="#000"/>
<rect x="864" y="305" width="3" height="70" fill="#fff"/>
<rect x="873" y="310" width="1" height="14" fill="#000"/>
<rect x="871" y="312" width="5" height="12" fill="#000"/>
<rect x="872" y="313" width="3" height="10" fill="#fff"/>
<rect x="881" y="308" width="1" height="37" fill="#000"/>
<rect x="879" y="312" width="5" height="21" fill="#000"/>
<rect x="889" y="306" width="1" height="56" fill="#000"/>
<rect x="887" y="323" width="5" height="10" fill="#000"/>
<rect x="888" y="324" width="3" height="8" fill="#fff"/>
<rect x="897" y="314" width="1" height="28" fill="#000"/>
<rect x="895" y="322" width="5" height="8" fill="#000"/>
<rect x="905" y="306" width="1" height="31" fill="#000"/>
<rect x="903" y="326" width="5" height="3" fill="#000"/>
<rect x="904" y="327" width="3" height="1" fill="#fff"/>
<rect x="913" y="325" width="1" height="47" fill="#000"/>
<rect x="911" y="326" width="5" height="30" fill="#000"/>
<rect x="921" y="362" width="1" height="9" fill="#000"/>
<rect x="919" y="363" width="5" height="6" fill="#000"/>
<rect x="929" y="342" width="1" height="41" fill="#000"/>
<rect x="927" y="365" width="5" height="4" fill="#000"/>
<rect x="928" y="366" width="3" height="2" fill="#fff"/>
<rect x="937" y="328" width="1" height="41" fill="#000"/>
<rect x="935" y="339" width="5" height="27" fill="#000"/>
<rect x="936" y="340" width="3" height="25" fill="#fff"/>
<rect x="945" y="319" width="1" height="33" fill="#000"/>
<rect x="943" y="326" width="5" height="14" fill="#000"/>
<rect x="944" y="327" width="3" height="12" fill="#fff"/>
<rect x="953" y="303" width="1" height="31" fill="#000"/>
<rect x="951" y="311" width="5" height="16" fill="#000"/>
<rect x="952" y="312" width="3" height="14" fill="#fff"/>
<rect x="961" y="306" width="1" height="5" fill="#000"/>
<rect x="959" y="306" width="5" height="4" fill="#000"/>
<rect x="969" y="291" width="1" height="21" fill="#000"/>
<rect x="967" y="295" width="5" height="15" fill="#000"/>
<rect x="968" y="296" width="3" height="13" fill="#fff"/>
<rect x="977" y="263" width="1" height="35" fill="#000"/>
<rect x="975" y="269" width="5" height="27" fill="#000"/>
<rect x="976" y="270" width="3" height="25" fill="#fff"/>
<rect x="985" y="269" width="1" height="47" fill="#000"/>
<rect x="983" y="269" width="5" height="27" fill="#000"/>
<rect x="993" y="293" width="1" height="30" fill="#000"/>
<rect x="991" y="295" width="5" height="8" fill="#000"/>
<rect x="1001" y="295" width="1" height="28" fill="#000"/>
<rect x="999" y="302" width="5" height="1" fill="#000"/>
<rect x="1009" y="301" width="1" height="3" fill="#000"/>
<rect x="1007" y="301" width="5" height="3" fill="#000"/>
<rect x="1017" y="301" width="1" height="20" fill="#000"/>
<rect x="1015" y="303" width="5" height="12" fill="#000"/>
<rect x="1025" y="314" width="1" height="48" fill="#000"/>
<rect x="1023" y="314" width="5" height="35" fill="#000"/>
<rect x="1033" y="327" width="1" height="28" fill="#000"/>
<rect x="1031" y="343" width="5" height="6" fill="#000"/>
<rect x="1032" y="344" width="3" height="4" fill="#fff"/>
<rect x="1041" y="320" width="1" height="27" fill="#000"/>
<rect x="1039" y="336" width="5" height="8" fill="#000"/>
<rect x="1040" y="337" width="3" height="6" fill="#fff"/>
<rect x="1049" y="329" width="1" height="21" fill="#000"/>
<rect x="1047" y="336" width="5" height="1" fill="#000"/>
<rect x="1057" y="331" width="1" height="3" fill="#000"/>
<rect x="1055" y="332" width="5" height="1" fill="#000"/>
<rect x="1065" y="310" width="1" height="25" fill="#000"/>
<rect x="1063" y="319" width="5" height="13" fill="#000"/>
<rect x="1064" y="320" width="3" height="11" fill="#fff"/>
<rect x="1073" y="295" width="1" height="29" fill="#000"/>
<rect x="1071" y="315" width="5" height="4" fill="#000"/>
<rect x="1072" y="316" width="3" height="2" fill="#fff"/>
<rect x="1081" y="303" width="1" height="24" fill="#000"/>
<rect x="1079" y="308" width="5" height="9" fill="#000"/>
<rect x="1080" y="309" width="3" height="7" fill="#fff"/>
<rect x="1089" y="264" width="1" height="54" fill="#000"/>
<rect x="1087" y="280" width="5" height="28" fill="#000"/>
<rect x="1088" y="281" width="3" height="26" fill="#fff"/>
<rect x="1097" y="279" width="1" height="25" fill="#000"/>
<rect x="1095" y="280" width="5" height="24" fill="#000"/>
<rect x="1105" y="308" width="1" height="5" fill="#000"/>
<rect x="1103" y="310" width="5" height="1" fill="#000"/>
<rect x="1113" y="305" width="1" height="18" fill="#000"/>
<rect x="1111" y="310" width="5" height="4" fill="#000"/>
<rect x="1121" y="303" width="1" height="17" fill="#000"/>
<rect x="1119" y="313" width="5" height="1" fill="#000"/>
<rect x="1129" y="311" width="1" height="33" fill="#000"/>
<rect x="1127" y="313" width="5" height="30" fill="#000"/>
<rect x="1137" y="319" width="1" height="38" fill="#000"/>
<rect x="1135" y="330" width="5" height="12" fill="#000"/>
<rect x="1136" y="331" width="3" height="10" fill="#fff"/>
<rect x="1145" y="307" width="1" height="28" fill="#000"/>
<rect x="1143" y="322" width="5" height="8" fill="#000"/>
<rect x="1144" y="323" width="3" height="6" fill="#fff"/>
<rect x="1153" y="320" width="1" height="5" fill="#000"/>
<rect x="1151" y="320" width="5" height="3" fill="#000"/>
<rect x="1152" y="321" width="3" height="1" fill="#fff"/>
<rect x="1161" y="315" width="1" height="38" fill="#000"/>
<rect x="1159" y="320" width="5" height="21" fill="#000"/>
<rect x="1169" y="329" width="1" height="32" fill="#000"/>
<rect x="1167" y="340" width="5" height="21" fill="#000"/>
<rect x="1177" y="338" width="1" height="33" fill="#000"/>
<rect x="1175" y="360" width="5" height="4" fill="#000"/>
<rect x="1185" y="363" width="1" height="19" fill="#000"/>
<rect x="1183" y="363" width="5" height="2" fill="#000"/>
<rect x="1193" y="363" width="1" height="32" fill="#000"/>
<rect x="1191" y="364" width="5" height="30" fill="#000"/>
<rect x="1201" y="398" width="1" height="4" fill="#000"/>
<rect x="1199" y="399" width="5" height="3" fill="#000"/>
<rect x="1209" y="366" width="1" height="36" fill="#000"/>
<rect x="1207" y="373" width="5" height="27" fill="#000"/>
<rect x="1208" y="374" width="3" height="25" fill="#fff"/>
<rect x="1217" y="349" width="1" height="29" fill="#000"/>
<rect x="1215" y="359" width="5" height="14" fill="#000"/>
<rect x="1216" y="360" width="3" height="12" fill="#fff"/>
<rect x="1225" y="351" width="1" height="17" fill="#000"/>
<rect x="1223" y="359" width="5" height="6" fill="#000"/>
<rect x="1233" y="360" width="1" height="17" fill="#000"/>
<rect x="1231" y="364" width="5" height="4" fill="#000"/>
<rect x="1241" y="364" width="1" height="19" fill="#000"/>
<rect x="1239" y="367" width="5" height="13" fill="#000"/>
<rect x="1249" y="376" width="1" height="2" fill="#000"/>
<rect x="1247" y="376" width="5" height="1" fill="#000"/>
<rect x="1257" y="372" width="1" height="10" fill="#000"/>
<rect x="1255" y="372" width="5" height="5" fill="#000"/>
<rect x="1256" y="373" width="3" height="3" fill="#fff"/>
<rect x="1265" y="333" width="1" height="41" fill="#000"/>
<rect x="1263" y="342" width="5" height="31" fill="#000"/>
<rect x="1264" y="343" width="3" height="29" fill="#fff"/>
<rect x="1273" y="335" width="1" height="37" fill="#000"/>
<rect x="1271" y="340" width="5" height="18" fill="#000"/>
<rect x="1281" y="337" width="1" height="28" fill="#000"/>
<rect x="1279" y="344" width="5" height="14" fill="#000"/>
<rect x="1280" y="345" width="3" height="12" fill="#fff"/>
<rect x="1289" y="325" width="1" height="26" fill="#000"/>
<rect x="1287" y="343" width="5" height="3" fill="#000"/>
<rect x="1288" y="344" width="3" height="1" fill="#fff"/>
<rect x="1297" y="336" width="1" height="3" fill="#000"/>
<rect x="1295" y="337" width="5" height="1" fill="#000"/>
<rect x="1305" y="298" width="1" height="41" fill="#000"/>
<rect x="1303" y="303" width="5" height="34" fill="#000"/>
<rect x="1304" y="304" width="3" height="32" fill="#fff"/>
<rect x="1313" y="279" width="1" height="27" fill="#000"/>
<rect x="1311" y="280" width="5" height="24" fill="#000"/>
<rect x="1312" y="281" width="3" height="22" fill="#fff"/>
<rect x="1321" y="271" width="1" height="16" fill="#000"/>
<rect x="1319" y="280" width="5" height="2" fill="#000"/>
<rect x="1329" y="267" width="1" height="33" fill="#000"/>
<rect x="1327" y="275" width="5" height="6" fill="#000"/>
<rect x="1328" y="276" width="3" height="4" fill="#fff"/>
<rect x="1337" y="243" width="1" height="37" fill="#000"/>
<rect x="1335" y="256" width="5" height="19" fill="#000"/>
<rect x="1336" y="257" width="3" height="17" fill="#fff"/>
<rect x="1345" y="243" width="1" height="11" fill="#000"/>
<rect x="1343" y="247" width="5" height="5" fill="#000"/>
<rect x="1344" y="248" width="3" height="3" fill="#fff"/>
<rect x="1353" y="241" width="1" height="28" fill="#000"/>
<rect x="1351" y="242" width="5" height="5" fill="#000"/>
<rect x="1352" y="243" width="3" height="3" fill="#fff"/>
<rect x="1361" y="237" width="1" height="34" fill="#000"/>
<rect x="1359" y="243" width="5" height="6" fill="#000"/>
<rect x="1369" y="223" width="1" height="27" fill="#000"/>
<rect x="1367" y="240" width="5" height="9" fill="#000"/>
<rect x="1368" y="241" width="3" height="7" fill="#fff"/>
</g>
<rect x="1309" y="253" width="90" height="7" fill="#00FF00"/>
<line x1="1257" y1="374" x2="1384" y2="230" stroke="#FF0000" stroke-width="2.7"/>
<polygon points="1390,222.5 1378.5,227 1386.5,233.5" fill="#FF0000" stroke="#FF0000" stroke-width="1.5" stroke-linejoin="round"/>
<rect x="1418" y="254" width="8" height="1" fill="#FF0000"/>
<rect x="1425.5" y="252.5" width="3" height="3" fill="#fff" stroke="#FF0000" stroke-width="1" shape-rendering="crispEdges"/>
<rect x="1428.5" y="242.5" width="73" height="24" fill="#fff" stroke="#FF0000" stroke-width="1" shape-rendering="crispEdges"/>
<text x="1430.8" y="262.7" font-size="21.6" fill="#FF0000" textLength="68.8" lengthAdjust="spacingAndGlyphs">1.26843</text>
<text x="1411" y="307" font-size="32" font-weight="600" fill="#003800" style="font-family:'Noto Serif CJK SC','Noto Sans CJK SC',serif" transform="translate(1,1)">多空转折点</text>
<text x="1411" y="307" font-size="32" font-weight="600" fill="#00FF00" style="font-family:'Noto Serif CJK SC','Noto Sans CJK SC',serif">多空转折点</text>
<g shape-rendering="crispEdges">
<rect x="1" y="616" width="1" height="14" fill="#C0C0C0"/>
<rect x="9" y="619" width="1" height="11" fill="#C0C0C0"/>
<rect x="17" y="620" width="1" height="10" fill="#C0C0C0"/>
<rect x="25" y="620" width="1" height="10" fill="#C0C0C0"/>
<rect x="33" y="620" width="1" height="10" fill="#C0C0C0"/>
<rect x="41" y="620" width="1" height="10" fill="#C0C0C0"/>
<rect x="49" y="620" width="1" height="10" fill="#C0C0C0"/>
<rect x="57" y="620" width="1" height="10" fill="#C0C0C0"/>
<rect x="65" y="620" width="1" height="10" fill="#C0C0C0"/>
<rect x="73" y="619" width="1" height="11" fill="#C0C0C0"/>
<rect x="81" y="614" width="1" height="16" fill="#C0C0C0"/>
<rect x="89" y="611" width="1" height="19" fill="#C0C0C0"/>
<rect x="97" y="608" width="1" height="22" fill="#C0C0C0"/>
<rect x="105" y="607" width="1" height="23" fill="#C0C0C0"/>
<rect x="113" y="605" width="1" height="25" fill="#C0C0C0"/>
<rect x="121" y="605" width="1" height="25" fill="#C0C0C0"/>
<rect x="129" y="602" width="1" height="28" fill="#C0C0C0"/>
<rect x="137" y="595" width="1" height="35" fill="#C0C0C0"/>
<rect x="145" y="592" width="1" height="38" fill="#C0C0C0"/>
<rect x="153" y="591" width="1" height="39" fill="#C0C0C0"/>
<rect x="161" y="592" width="1" height="38" fill="#C0C0C0"/>
<rect x="169" y="598" width="1" height="32" fill="#C0C0C0"/>
<rect x="177" y="602" width="1" height="28" fill="#C0C0C0"/>
<rect x="185" y="609" width="1" height="21" fill="#C0C0C0"/>
<rect x="193" y="614" width="1" height="16" fill="#C0C0C0"/>
<rect x="201" y="618" width="1" height="12" fill="#C0C0C0"/>
<rect x="209" y="622" width="1" height="8" fill="#C0C0C0"/>
<rect x="217" y="628" width="1" height="2" fill="#C0C0C0"/>
<rect x="233" y="628" width="1" height="2" fill="#C0C0C0"/>
<rect x="249" y="628" width="1" height="2" fill="#C0C0C0"/>
<rect x="257" y="626" width="1" height="4" fill="#C0C0C0"/>
<rect x="265" y="622" width="1" height="8" fill="#C0C0C0"/>
<rect x="273" y="620" width="1" height="10" fill="#C0C0C0"/>
<rect x="281" y="620" width="1" height="10" fill="#C0C0C0"/>
<rect x="289" y="622" width="1" height="8" fill="#C0C0C0"/>
<rect x="297" y="623" width="1" height="7" fill="#C0C0C0"/>
<rect x="305" y="622" width="1" height="8" fill="#C0C0C0"/>
<rect x="313" y="622" width="1" height="8" fill="#C0C0C0"/>
<rect x="321" y="623" width="1" height="7" fill="#C0C0C0"/>
<rect x="329" y="625" width="1" height="5" fill="#C0C0C0"/>
<rect x="337" y="627" width="1" height="3" fill="#C0C0C0"/>
<rect x="345" y="628" width="1" height="2" fill="#C0C0C0"/>
<rect x="361" y="629" width="1" height="4" fill="#C0C0C0"/>
<rect x="369" y="629" width="1" height="4" fill="#C0C0C0"/>
<rect x="377" y="629" width="1" height="4" fill="#C0C0C0"/>
<rect x="385" y="629" width="1" height="4" fill="#C0C0C0"/>
<rect x="393" y="629" width="1" height="6" fill="#C0C0C0"/>
<rect x="401" y="629" width="1" height="7" fill="#C0C0C0"/>
<rect x="409" y="629" width="1" height="5" fill="#C0C0C0"/>
<rect x="417" y="628" width="1" height="2" fill="#C0C0C0"/>
<rect x="441" y="629" width="1" height="2" fill="#C0C0C0"/>
<rect x="449" y="629" width="1" height="2" fill="#C0C0C0"/>
<rect x="457" y="629" width="1" height="2" fill="#C0C0C0"/>
<rect x="465" y="629" width="1" height="2" fill="#C0C0C0"/>
<rect x="473" y="629" width="1" height="3" fill="#C0C0C0"/>
<rect x="481" y="628" width="1" height="2" fill="#C0C0C0"/>
<rect x="489" y="626" width="1" height="4" fill="#C0C0C0"/>
<rect x="497" y="629" width="1" height="2" fill="#C0C0C0"/>
<rect x="505" y="629" width="1" height="2" fill="#C0C0C0"/>
<rect x="513" y="629" width="1" height="2" fill="#C0C0C0"/>
<rect x="521" y="629" width="1" height="6" fill="#C0C0C0"/>
<rect x="529" y="629" width="1" height="10" fill="#C0C0C0"/>
<rect x="537" y="629" width="1" height="12" fill="#C0C0C0"/>
<rect x="545" y="629" width="1" height="12" fill="#C0C0C0"/>
<rect x="553" y="629" width="1" height="12" fill="#C0C0C0"/>
<rect x="561" y="629" width="1" height="12" fill="#C0C0C0"/>
<rect x="569" y="629" width="1" height="10" fill="#C0C0C0"/>
<rect x="577" y="629" width="1" height="8" fill="#C0C0C0"/>
<rect x="585" y="629" width="1" height="7" fill="#C0C0C0"/>
<rect x="593" y="629" width="1" height="6" fill="#C0C0C0"/>
<rect x="601" y="629" width="1" height="6" fill="#C0C0C0"/>
<rect x="609" y="629" width="1" height="7" fill="#C0C0C0"/>
<rect x="617" y="629" width="1" height="9" fill="#C0C0C0"/>
<rect x="625" y="629" width="1" height="9" fill="#C0C0C0"/>
<rect x="633" y="629" width="1" height="8" fill="#C0C0C0"/>
<rect x="641" y="629" width="1" height="9" fill="#C0C0C0"/>
<rect x="649" y="629" width="1" height="8" fill="#C0C0C0"/>
<rect x="657" y="629" width="1" height="8" fill="#C0C0C0"/>
<rect x="665" y="629" width="1" height="10" fill="#C0C0C0"/>
<rect x="673" y="629" width="1" height="13" fill="#C0C0C0"/>
<rect x="681" y="629" width="1" height="16" fill="#C0C0C0"/>
<rect x="689" y="629" width="1" height="18" fill="#C0C0C0"/>
<rect x="697" y="629" width="1" height="19" fill="#C0C0C0"/>
<rect x="705" y="629" width="1" height="16" fill="#C0C0C0"/>
<rect x="713" y="629" width="1" height="13" fill="#C0C0C0"/>
<rect x="721" y="629" width="1" height="10" fill="#C0C0C0"/>
<rect x="729" y="629" width="1" height="4" fill="#C0C0C0"/>
<rect x="745" y="629" width="1" height="2" fill="#C0C0C0"/>
<rect x="753" y="629" width="1" height="4" fill="#C0C0C0"/>
<rect x="761" y="629" width="1" height="13" fill="#C0C0C0"/>
<rect x="769" y="629" width="1" height="26" fill="#C0C0C0"/>
<rect x="777" y="629" width="1" height="34" fill="#C0C0C0"/>
<rect x="785" y="629" width="1" height="43" fill="#C0C0C0"/>
<rect x="793" y="629" width="1" height="54" fill="#C0C0C0"/>
<rect x="801" y="629" width="1" height="74" fill="#C0C0C0"/>
<rect x="809" y="629" width="1" height="92" fill="#C0C0C0"/>
<rect x="817" y="629" width="1" height="103" fill="#C0C0C0"/>
<rect x="825" y="629" width="1" height="110" fill="#C0C0C0"/>
<rect x="833" y="629" width="1" height="114" fill="#C0C0C0"/>
<rect x="841" y="629" width="1" height="112" fill="#C0C0C0"/>
<rect x="849" y="629" width="1" height="106" fill="#C0C0C0"/>
<rect x="857" y="629" width="1" height="92" fill="#C0C0C0"/>
<rect x="865" y="629" width="1" height="74" fill="#C0C0C0"/>
<rect x="873" y="629" width="1" height="59" fill="#C0C0C0"/>
<rect x="881" y="629" width="1" height="49" fill="#C0C0C0"/>
<rect x="889" y="629" width="1" height="39" fill="#C0C0C0"/>
<rect x="897" y="629" width="1" height="32" fill="#C0C0C0"/>
<rect x="905" y="629" width="1" height="24" fill="#C0C0C0"/>
<rect x="913" y="629" width="1" height="22" fill="#C0C0C0"/>
<rect x="921" y="629" width="1" height="22" fill="#C0C0C0"/>
<rect x="929" y="629" width="1" height="21" fill="#C0C0C0"/>
<rect x="937" y="629" width="1" height="18" fill="#C0C0C0"/>
<rect x="945" y="629" width="1" height="12" fill="#C0C0C0"/>
<rect x="953" y="629" width="1" height="8" fill="#C0C0C0"/>
<rect x="961" y="629" width="1" height="3" fill="#C0C0C0"/>
<rect x="969" y="628" width="1" height="2" fill="#C0C0C0"/>
<rect x="977" y="621" width="1" height="9" fill="#C0C0C0"/>
<rect x="985" y="619" width="1" height="11" fill="#C0C0C0"/>
<rect x="993" y="618" width="1" height="12" fill="#C0C0C0"/>
<rect x="1001" y="617" width="1" height="13" fill="#C0C0C0"/>
<rect x="1009" y="617" width="1" height="13" fill="#C0C0C0"/>
<rect x="1017" y="618" width="1" height="12" fill="#C0C0C0"/>
<rect x="1025" y="622" width="1" height="8" fill="#C0C0C0"/>
<rect x="1033" y="626" width="1" height="4" fill="#C0C0C0"/>
<rect x="1041" y="628" width="1" height="2" fill="#C0C0C0"/>
<rect x="1049" y="628" width="1" height="2" fill="#C0C0C0"/>
<rect x="1065" y="628" width="1" height="2" fill="#C0C0C0"/>
<rect x="1073" y="628" width="1" height="2" fill="#C0C0C0"/>
<rect x="1081" y="626" width="1" height="4" fill="#C0C0C0"/>
<rect x="1089" y="622" width="1" height="8" fill="#C0C0C0"/>
<rect x="1097" y="622" width="1" height="8" fill="#C0C0C0"/>
<rect x="1105" y="622" width="1" height="8" fill="#C0C0C0"/>
<rect x="1113" y="622" width="1" height="8" fill="#C0C0C0"/>
<rect x="1121" y="623" width="1" height="7" fill="#C0C0C0"/>
<rect x="1129" y="627" width="1" height="3" fill="#C0C0C0"/>
<rect x="1137" y="628" width="1" height="2" fill="#C0C0C0"/>
<rect x="1145" y="628" width="1" height="2" fill="#C0C0C0"/>
<rect x="1153" y="628" width="1" height="2" fill="#C0C0C0"/>
<rect x="1169" y="629" width="1" height="6" fill="#C0C0C0"/>
<rect x="1177" y="629" width="1" height="9" fill="#C0C0C0"/>
<rect x="1185" y="629" width="1" height="12" fill="#C0C0C0"/>
<rect x="1193" y="629" width="1" height="17" fill="#C0C0C0"/>
<rect x="1201" y="629" width="1" height="21" fill="#C0C0C0"/>
<rect x="1209" y="629" width="1" height="21" fill="#C0C0C0"/>
<rect x="1217" y="629" width="1" height="20" fill="#C0C0C0"/>
<rect x="1225" y="629" width="1" height="18" fill="#C0C0C0"/>
<rect x="1233" y="629" width="1" height="18" fill="#C0C0C0"/>
<rect x="1241" y="629" width="1" height="19" fill="#C0C0C0"/>
<rect x="1249" y="629" width="1" height="20" fill="#C0C0C0"/>
<rect x="1257" y="629" width="1" height="19" fill="#C0C0C0"/>
<rect x="1265" y="629" width="1" height="14" fill="#C0C0C0"/>
<rect x="1273" y="629" width="1" height="12" fill="#C0C0C0"/>
<rect x="1281" y="629" width="1" height="10" fill="#C0C0C0"/>
<rect x="1289" y="629" width="1" height="8" fill="#C0C0C0"/>
<rect x="1297" y="629" width="1" height="6" fill="#C0C0C0"/>
<rect x="1313" y="622" width="1" height="8" fill="#C0C0C0"/>
<rect x="1321" y="617" width="1" height="13" fill="#C0C0C0"/>
<rect x="1329" y="613" width="1" height="17" fill="#C0C0C0"/>
<rect x="1337" y="608" width="1" height="22" fill="#C0C0C0"/>
<rect x="1345" y="603" width="1" height="27" fill="#C0C0C0"/>
<rect x="1353" y="599" width="1" height="31" fill="#C0C0C0"/>
<rect x="1361" y="597" width="1" height="33" fill="#C0C0C0"/>
<rect x="1369" y="595" width="1" height="35" fill="#C0C0C0"/>
</g>
<polyline points="0.0,614.3 25.0,615.0 50.0,618.8 75.0,619.5 87.5,617.5 100.0,615.0 112.5,613.8 125.0,610.0 137.5,607.5 150.0,601.3 162.5,598.8 175.0,597.5 187.5,598.0 200.0,600.0 212.5,603.8 225.0,611.3 237.5,618.0 250.0,623.8 262.5,626.3 275.0,626.8 287.5,625.8 300.0,623.8 312.5,622.0 325.0,621.8 332.5,621.3 350.0,623.8 375.0,627.5 400.0,631.3 420.0,633.0 445.0,632.0 470.0,631.3 487.5,629.3 507.5,629.3 525.0,630.0 545.0,632.0 555.0,635.0 570.0,637.5 595.0,638.3 620.0,637.0 645.0,636.3 662.5,636.3 675.0,638.0 690.0,640.0 700.0,641.3 715.0,642.0 732.5,642.0 742.5,639.3 755.0,638.3 770.0,639.5 782.5,642.5 792.5,648.8 802.5,660.0 812.5,671.3 820.0,681.3 830.0,695.0 839.5,708.8 843.0,712.5 850.0,720.0 860.0,725.0 870.0,725.0 880.0,720.8 890.0,711.3 900.0,701.3 907.5,691.3 915.0,681.3 927.5,667.5 940.0,657.5 952.5,650.8 965.0,645.0 977.5,638.8 990.0,633.0 1002.5,627.5 1012.5,625.5 1017.5,622.0 1030.0,620.5 1045.0,620.5 1057.5,622.0 1072.5,624.3 1082.5,626.3 1102.5,625.5 1122.5,624.5 1157.5,624.5 1175.0,626.8 1185.0,630.0 1192.5,633.8 1207.5,637.5 1217.5,640.5 1230.0,643.8 1245.0,646.3 1259.5,647.5 1273.0,646.3 1290.5,643.8 1305.5,640.5 1318.0,635.0 1330.5,629.5 1343.0,623.3 1353.0,616.8 1363.0,612.0 1369.0,609.3" fill="none" stroke="#FF0000" stroke-width="1" stroke-dasharray="3 3" shape-rendering="crispEdges"/>
<line x1="0" y1="789.5" x2="1631" y2="789.5" stroke="#C0C0C0" stroke-width="1" stroke-dasharray="3 3" shape-rendering="crispEdges"/>
<line x1="0" y1="840.5" x2="1631" y2="840.5" stroke="#C0C0C0" stroke-width="1" stroke-dasharray="3 3" shape-rendering="crispEdges"/>
<line x1="0" y1="901.5" x2="1631" y2="901.5" stroke="#C0C0C0" stroke-width="1" stroke-dasharray="3 3" shape-rendering="crispEdges"/>
<polyline points="1.5,843.0 9.5,838.8 17.5,830.0 25.5,838.0 33.5,826.3 41.5,830.0 49.5,826.3 57.5,831.3 65.5,826.3 73.5,817.5 81.5,804.5 89.5,800.5 97.5,805.0 105.5,805.0 113.5,803.8 121.5,809.3 129.5,801.3 137.5,783.0 145.5,807.5 153.5,806.3 161.5,818.8 169.5,836.8 177.5,841.3 185.5,847.0 193.5,847.0 201.5,848.8 209.5,855.0 217.5,856.8 225.5,850.0 233.5,845.5 241.5,834.3 249.5,835.5 257.5,833.0 265.5,818.0 273.5,818.0 281.5,832.5 289.5,841.3 297.5,841.3 305.5,831.3 313.5,838.0 321.5,839.3 329.5,843.0 337.5,844.3 345.5,847.5 353.5,854.3 361.5,848.3 369.5,846.3 377.5,840.0 385.5,848.3 393.5,850.5 401.5,850.5 409.5,843.0 417.5,828.3 425.5,833.8 433.5,839.3 441.5,842.0 449.5,842.5 457.5,848.3 465.5,848.3 473.5,837.5 481.5,821.3 489.5,824.3 497.5,851.3 505.5,846.3 513.5,850.0 521.5,857.5 529.5,862.5 537.5,861.3 545.5,857.0 553.5,850.0 561.5,850.0 569.5,836.3 577.5,838.0 585.5,836.3 593.5,843.0 601.5,844.3 609.5,853.8 617.5,860.0 625.5,844.3 633.5,847.5 641.5,851.3 649.5,839.3 657.5,851.3 665.5,854.5 673.5,864.5 681.5,861.3 689.5,865.5 697.5,856.3 705.5,848.3 713.5,838.0 721.5,830.0 729.5,822.0 737.5,825.0 745.5,846.3 753.5,854.3 761.5,871.8 769.5,883.3 777.5,873.3 785.5,879.3 793.5,884.3 801.5,896.3 809.5,899.5 817.5,891.3 825.5,888.0 833.5,888.0 841.5,872.5 849.5,867.5 857.5,846.3 865.5,833.0 873.5,834.3 881.5,838.3 889.5,837.0 897.5,838.3 905.5,837.0 913.5,844.3 921.5,847.5 929.5,846.3 937.5,839.3 945.5,835.8 953.5,832.0 961.5,832.0 969.5,828.0 977.5,821.3 985.5,830.0 993.5,833.0 1001.5,833.0 1009.5,833.0 1017.5,837.0 1025.5,849.3 1033.5,847.5 1041.5,844.5 1049.5,844.3 1057.5,843.0 1065.5,837.5 1073.5,836.3 1081.5,832.0 1089.5,821.3 1097.5,833.3 1105.5,836.3 1113.5,838.0 1121.5,838.3 1129.5,851.3 1137.5,845.0 1145.5,841.3 1153.5,840.0 1161.5,850.0 1169.5,858.0 1177.5,859.3 1185.5,859.3 1193.5,870.0 1201.5,872.5 1209.5,855.0 1217.5,848.3 1225.5,850.0 1233.5,851.8 1241.5,857.5 1249.5,855.5 1257.5,852.0 1265.5,835.8 1273.5,843.3 1281.5,837.5 1289.5,835.8 1297.5,833.8 1305.5,819.5 1313.5,810.8 1321.5,812.5 1329.5,810.0 1337.5,805.5 1345.5,802.0 1353.5,801.3 1361.5,805.5 1369.5,802.0" fill="none" stroke="#1E90FF" stroke-width="1" shape-rendering="crispEdges"/>
<rect x="0" y="26" width="1632" height="1" fill="#000"/>
<rect x="1631" y="26" width="1" height="902" fill="#000"/>
<rect x="0" y="579" width="1632" height="1" fill="#000"/>
<rect x="0" y="581" width="1632" height="1" fill="#000"/>
<rect x="0" y="580" width="1632" height="1" fill="#fff"/>
<rect x="0" y="751" width="1632" height="1" fill="#000"/>
<rect x="0" y="753" width="1632" height="1" fill="#000"/>
<rect x="0" y="752" width="1632" height="1" fill="#fff"/>
<rect x="0" y="927" width="1632" height="1" fill="#000"/>
<rect x="1632" y="48" width="2" height="1" fill="#000"/>
<text x="1637.5" y="51.7" font-size="9.1" fill="#000">1.35280</text>
<rect x="1632" y="81" width="2" height="1" fill="#000"/>
<text x="1637.5" y="84.7" font-size="9.1" fill="#000">1.33920</text>
<rect x="1632" y="114" width="2" height="1" fill="#000"/>
<text x="1637.5" y="117.7" font-size="9.1" fill="#000">1.32560</text>
<rect x="1632" y="147" width="2" height="1" fill="#000"/>
<text x="1637.5" y="150.7" font-size="9.1" fill="#000">1.31240</text>
<rect x="1632" y="180" width="2" height="1" fill="#000"/>
<text x="1637.5" y="183.7" font-size="9.1" fill="#000">1.29880</text>
<rect x="1632" y="213" width="2" height="1" fill="#000"/>
<text x="1637.5" y="216.7" font-size="9.1" fill="#000">1.28520</text>
<rect x="1632" y="246" width="2" height="1" fill="#000"/>
<text x="1637.5" y="249.7" font-size="9.1" fill="#000">1.27160</text>
<rect x="1632" y="279" width="2" height="1" fill="#000"/>
<text x="1637.5" y="282.7" font-size="9.1" fill="#000">1.25840</text>
<rect x="1632" y="312" width="2" height="1" fill="#000"/>
<text x="1637.5" y="315.7" font-size="9.1" fill="#000">1.24480</text>
<rect x="1632" y="345" width="2" height="1" fill="#000"/>
<text x="1637.5" y="348.7" font-size="9.1" fill="#000">1.23120</text>
<rect x="1632" y="378" width="2" height="1" fill="#000"/>
<text x="1637.5" y="381.7" font-size="9.1" fill="#000">1.21760</text>
<rect x="1632" y="411" width="2" height="1" fill="#000"/>
<text x="1637.5" y="414.7" font-size="9.1" fill="#000">1.20400</text>
<rect x="1632" y="444" width="2" height="1" fill="#000"/>
<text x="1637.5" y="447.7" font-size="9.1" fill="#000">1.19080</text>
<rect x="1632" y="477" width="2" height="1" fill="#000"/>
<text x="1637.5" y="480.7" font-size="9.1" fill="#000">1.17720</text>
<rect x="1632" y="510" width="2" height="1" fill="#000"/>
<text x="1637.5" y="513.7" font-size="9.1" fill="#000">1.16360</text>
<rect x="1632" y="543" width="2" height="1" fill="#000"/>
<text x="1637.5" y="546.7" font-size="9.1" fill="#000">1.15000</text>
<rect x="1632" y="576" width="2" height="1" fill="#000"/>
<text x="1637.5" y="579.7" font-size="9.1" fill="#000">1.13680</text>
<rect x="1633" y="188" width="41" height="11" fill="#FF4500"/>
<text x="1637.5" y="197.4" font-size="9.1" fill="#fff">1.29295</text>
<rect x="1633" y="212" width="41" height="11" fill="#FF0000"/>
<text x="1637.5" y="221.4" font-size="9.1" fill="#fff">1.28314</text>
<rect x="1633" y="233" width="41" height="11" fill="#000"/>
<text x="1637.5" y="242.4" font-size="9.1" fill="#fff">1.27462</text>
<rect x="1633" y="248" width="41" height="11" fill="#32CD32"/>
<text x="1637.5" y="257.4" font-size="9.1" fill="#fff">1.26843</text>
<rect x="1633" y="269" width="41" height="11" fill="#0000FF"/>
<text x="1637.5" y="278.4" font-size="9.1" fill="#fff">1.25984</text>
<rect x="1633" y="288" width="41" height="11" fill="#0000FF"/>
<text x="1637.5" y="297.4" font-size="9.1" fill="#fff">1.25201</text>
<rect x="1626.5" y="272.5" width="4" height="5" fill="#fff" stroke="#0000FF" stroke-width="1"/>
<text x="1634.5" y="592" font-size="9.1" fill="#000">0.0148</text>
<text x="1634.5" y="633" font-size="9.1" fill="#000">0.00</text>
<rect x="1632" y="629" width="2" height="1" fill="#000"/>
<rect x="1632" y="583" width="1" height="1" fill="#000"/>
<text x="1634" y="748" font-size="9.1" fill="#000">-0.038415</text>
<text x="1634.5" y="764" font-size="9.1" fill="#000">100</text>
<text x="1634.5" y="793" font-size="9.1" fill="#000">80</text>
<text x="1634.5" y="844" font-size="9.1" fill="#000">50</text>
<text x="1634.5" y="905" font-size="9.1" fill="#000">15</text>
<text x="1634.5" y="924" font-size="9.1" fill="#000">0</text>
<rect x="1632" y="750" width="1" height="1" fill="#000"/>
<rect x="1632" y="755" width="1" height="1" fill="#000"/>
<rect x="1632" y="926" width="1" height="1" fill="#000"/>
<rect x="-7" y="928" width="1" height="3" fill="#000"/>
<text x="-2.5" y="940" font-size="9.3" fill="#000">1 Nov 2019</text>
<rect x="57" y="928" width="1" height="3" fill="#000"/>
<text x="56" y="940" font-size="9.3" fill="#000">1 Dec 2019</text>
<rect x="121" y="928" width="1" height="3" fill="#000"/>
<text x="120" y="940" font-size="9.3" fill="#000">10 Dec 2019</text>
<rect x="185" y="928" width="1" height="3" fill="#000"/>
<text x="184" y="940" font-size="9.3" fill="#000">19 Dec 2019</text>
<rect x="249" y="928" width="1" height="3" fill="#000"/>
<text x="248" y="940" font-size="9.3" fill="#000">29 Dec 2019</text>
<rect x="313" y="928" width="1" height="3" fill="#000"/>
<text x="312" y="940" font-size="9.3" fill="#000">7 Jan 2020</text>
<rect x="377" y="928" width="1" height="3" fill="#000"/>
<text x="376" y="940" font-size="9.3" fill="#000">16 Jan 2020</text>
<rect x="441" y="928" width="1" height="3" fill="#000"/>
<text x="440" y="940" font-size="9.3" fill="#000">26 Jan 2020</text>
<rect x="505" y="928" width="1" height="3" fill="#000"/>
<text x="504" y="940" font-size="9.3" fill="#000">4 Feb 2020</text>
<rect x="569" y="928" width="1" height="3" fill="#000"/>
<text x="568" y="940" font-size="9.3" fill="#000">13 Feb 2020</text>
<rect x="633" y="928" width="1" height="3" fill="#000"/>
<text x="632" y="940" font-size="9.3" fill="#000">23 Feb 2020</text>
<rect x="697" y="928" width="1" height="3" fill="#000"/>
<text x="696" y="940" font-size="9.3" fill="#000">3 Mar 2020</text>
<rect x="761" y="928" width="1" height="3" fill="#000"/>
<text x="760" y="940" font-size="9.3" fill="#000">12 Mar 2020</text>
<rect x="825" y="928" width="1" height="3" fill="#000"/>
<text x="824" y="940" font-size="9.3" fill="#000">22 Mar 2020</text>
<rect x="889" y="928" width="1" height="3" fill="#000"/>
<text x="888" y="940" font-size="9.3" fill="#000">31 Mar 2020</text>
<rect x="953" y="928" width="1" height="3" fill="#000"/>
<text x="952" y="940" font-size="9.3" fill="#000">9 Apr 2020</text>
<rect x="1017" y="928" width="1" height="3" fill="#000"/>
<text x="1016" y="940" font-size="9.3" fill="#000">20 Apr 2020</text>
<rect x="1081" y="928" width="1" height="3" fill="#000"/>
<text x="1080" y="940" font-size="9.3" fill="#000">29 Apr 2020</text>
<rect x="1145" y="928" width="1" height="3" fill="#000"/>
<text x="1144" y="940" font-size="9.3" fill="#000">8 May 2020</text>
<rect x="1209" y="928" width="1" height="3" fill="#000"/>
<text x="1208" y="940" font-size="9.3" fill="#000">18 May 2020</text>
<rect x="1273" y="928" width="1" height="3" fill="#000"/>
<text x="1272" y="940" font-size="9.3" fill="#000">27 May 2020</text>
<rect x="1337" y="928" width="1" height="3" fill="#000"/>
<text x="1336" y="940" font-size="9.3" fill="#000">5 Jun 2020</text>
<text x="8" y="38" font-size="9.3" fill="#000">GBPUSD-,Daily</text>
<text x="81" y="38" font-size="9.25" fill="#000">1.27102 1.28122 1.27054 1.27462</text>
<polygon points="0,37 0,33.5 3.5,37" fill="#000"/>
<text x="-2" y="594" font-size="9.3" fill="#000">MACD(12,26,9) 0.011236 0.006642</text>
<text x="-3" y="766" font-size="9.3" fill="#000">RSI(14) 72.1418</text>
<polygon points="1378.8,27 1388.2,27 1383.5,32" fill="#C0C0C0"/>
</svg>
<div id="pn">
<div class="sb" style="left:0;width:42px;"><span style="transform:scaleX(0.86)">SELL</span></div>
<div style="left:42px;top:0;width:6px;height:24px;background:linear-gradient(#F45454,#DC3030);border-top:1px solid #C41010"></div>
<div class="ul" style="left:0;width:44px;"></div>
<div class="sb" style="left:163px;width:52px;"><span style="transform:scaleX(0.89)">BUY</span></div>
<div class="ul" style="left:167px;width:44px;"></div>
<div id="vol"><div class="spb" style="left:0"><svg width="18" height="17" style="position:absolute;left:0;top:0"><polygon points="6.5,7 11.5,7 9,10" fill="#4A5FC0"/></svg></div>
<div style="left:20px;top:0;width:66px;height:19px;font-size:12.5px;line-height:18px;text-align:right;color:#000;">1.00</div>
<div class="spb" style="left:89px"><svg width="18" height="17" style="position:absolute;left:0;top:0"><polygon points="6.5,10 11.5,10 9,7" fill="#4A5FC0"/></svg></div></div>
<div class="bp" style="left:0;width:105px;"><span class="sm" style="left:16px;">1.27</span><span class="bg" style="left:42px;">46</span><span class="su" style="left:83px;">2</span></div>
<div class="bp" style="left:107px;width:108px;"><span class="sm" style="left:19px;">1.27</span><span class="bg" style="left:46px;">49</span><span class="su" style="left:87px;">5</span></div>
</div>

<div style="position:absolute;left:1677px;top:24px;width:1px;height:920px;background:#E4E4E4"></div>
</body></html>
